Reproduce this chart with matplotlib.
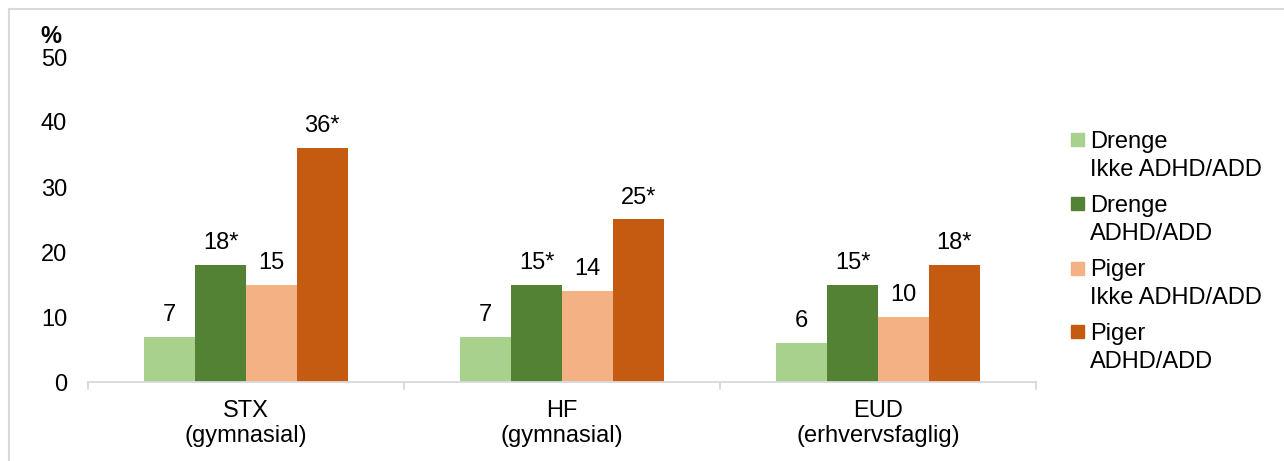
import numpy as np
import matplotlib
matplotlib.use('Agg')
import matplotlib.pyplot as plt
from matplotlib.lines import Line2D
from matplotlib.patches import Rectangle

plt.rcParams['font.family'] = ['Liberation Sans', 'DejaVu Sans']

categories = ['STX\n(gymnasial)', 'HF\n(gymnasial)', 'EUD\n(erhvervsfaglig)']
series_names = ['Drenge\nIkke ADHD/ADD', 'Drenge\nADHD/ADD',
                'Piger\nIkke ADHD/ADD', 'Piger\nADHD/ADD']
drenge_ikke = [7, 7, 6]
drenge_adhd = [18, 15, 15]
piger_ikke = [15, 14, 10]
piger_adhd = [36, 25, 18]
values = [drenge_ikke, drenge_adhd, piger_ikke, piger_adhd]
# an asterisk marks a significant difference
starred = [False, True, False, True]
colors = ['#a9d18e', '#548235', '#f4b183', '#c55a11']

W, H = 1284, 461
fs = 17

def fx(px):
    return px / W

def fy(py):
    # pixel rows counted from the top
    return 1 - py / H

fig = plt.figure(figsize=(W/100, H/100), dpi=100)
ax = fig.add_axes([fx(88), fy(382), fx(1036 - 88), (382 - 57)/H])

x = np.arange(len(categories))
w = 0.161
for i, (vals, name, col) in enumerate(zip(values, series_names, colors)):
    pos = x + (i - 1.5) * w
    bars = ax.bar(pos, vals, width=w, color=col, label=name, zorder=2)
    for b, v in zip(bars, vals):
        txt = f'{v}*' if starred[i] else f'{v}'
        ax.annotate(txt, (b.get_x() + b.get_width()/2, v), xytext=(0, 16),
                    textcoords='offset pixels', ha='center', va='baseline',
                    fontsize=fs, color='#000000')

ax.set_xlim(-0.5, 2.5)
ax.set_ylim(0, 50)
ax.set_yticks(range(0, 51, 10))
ax.tick_params(axis='y', length=0, labelsize=fs, pad=15)
ax.set_xticks(x)
ax.set_xticklabels(categories, fontsize=fs, linespacing=1.2)
ax.tick_params(axis='x', length=0, pad=13)
for s in ['top', 'right', 'left']:
    ax.spines[s].set_visible(False)
ax.spines['bottom'].set_color('#d9d9d9')
ax.spines['bottom'].set_linewidth(1.3)

# group separator ticks on the category axis
for b in [-0.5, 0.5, 1.5, 2.5]:
    ax.plot([b, b], [0, -1.0], color='#d9d9d9', lw=1.3, clip_on=False)

fig.text(fx(40), fy(43), '%', fontsize=fs, fontweight='bold',
         ha='left', va='baseline')

# legend: square next to the first line of each two-line label
for i, (name, col) in enumerate(zip(series_names, colors)):
    top = 133.5 + 64 * i
    fig.add_artist(Rectangle((fx(1071), fy(top + 13)), fx(13), 13/H,
                             color=col, transform=fig.transFigure))
    for j, line in enumerate(name.split('\n')):
        fig.text(fx(1090), fy(top + 14.5 + 28 * j), line, fontsize=fs,
                 ha='left', va='baseline')

# light frame around the chart area
fig.add_artist(Line2D([fx(9), fx(9)], [0, fy(9)], color='#d9d9d9',
                      lw=1.5, transform=fig.transFigure))
fig.add_artist(Line2D([fx(9), 1], [fy(9), fy(9)], color='#d9d9d9',
                      lw=1.5, transform=fig.transFigure))

fig.savefig('out.png', dpi=100)
